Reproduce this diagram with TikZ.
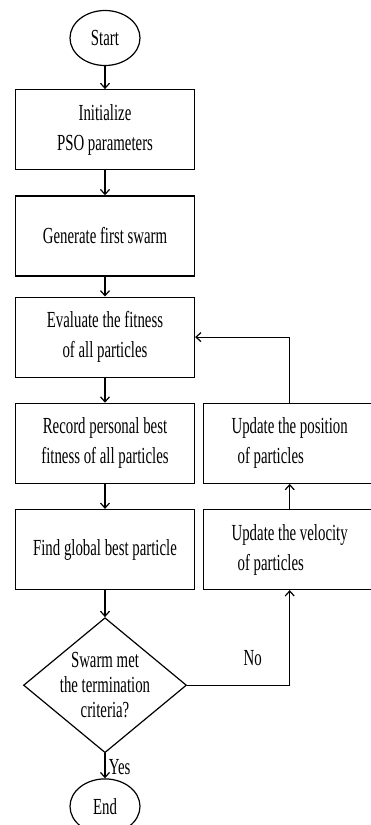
\documentclass[tikz,border=0pt]{standalone}
\usepackage{fontspec}
\setmainfont{Liberation Serif}[FakeStretch=0.645]
\usetikzlibrary{positioning,shapes.geometric,arrows.meta}

\begin{document}
\begin{tikzpicture}[x=1pt,y=1pt,
  every node/.style={font=\fontsize{23}{30}\selectfont},
  line width=1.2pt, >={Straight Barb[length=5pt,width=9pt]},
  stepbox/.style={draw, minimum width=179pt, minimum height=80pt, align=center, inner sep=2pt},
  sidebox/.style={draw, minimum width=172pt, minimum height=80pt, align=left, inner sep=2pt},
  terminal/.style={draw, ellipse, minimum width=70pt, minimum height=55pt, inner sep=0pt},
  decision/.style={draw, diamond, minimum width=163pt, minimum height=135pt, inner sep=-12pt,
    align=center, font=\fontsize{23}{25}\selectfont},
  flow/.style={->}]
\useasboundingbox (0,0) rectangle (370,-825);

\node[terminal] (start) at (105,-38) {Start};
\node[stepbox, below=23pt of start] (init) {Initialize\\PSO parameters};
\node[stepbox, below=25pt of init] (swarm) {Generate first swarm};
\node[stepbox, below=20pt of swarm] (eval) {Evaluate the fitness\\of all particles};
\node[stepbox, below=25pt of eval] (pbest) {Record personal best\\fitness of all particles};
\node[stepbox, below=25pt of pbest] (gbest) {Find global best particle};
\node[decision, below=27pt of gbest] (check) {Swarm met\\the termination\\criteria?};
\node[terminal, below=25pt of check] (end) {End};

\node[sidebox, right=8pt of pbest] (position) {Update the position\\\hspace{6pt}of particles};
\node[sidebox, right=8pt of gbest] (velocity) {Update the velocity\\\hspace{6pt}of particles};

\draw[flow] (start) -- (init);
\draw[flow] (init) -- (swarm);
\draw[flow] (swarm) -- (eval);
\draw[flow] (eval) -- (pbest);
\draw[flow] (pbest) -- (gbest);
\draw[flow] (gbest) -- (check);
\draw[flow] (check) -- node[right, pos=0.55] {Yes} (end);
\draw[flow] (check.east) -| node[pos=0.32, above=16pt] {No} (velocity.south);
\draw[flow] (velocity) -- (position);
\draw[flow] (position.north) |- (eval.east);
\end{tikzpicture}
\end{document}
